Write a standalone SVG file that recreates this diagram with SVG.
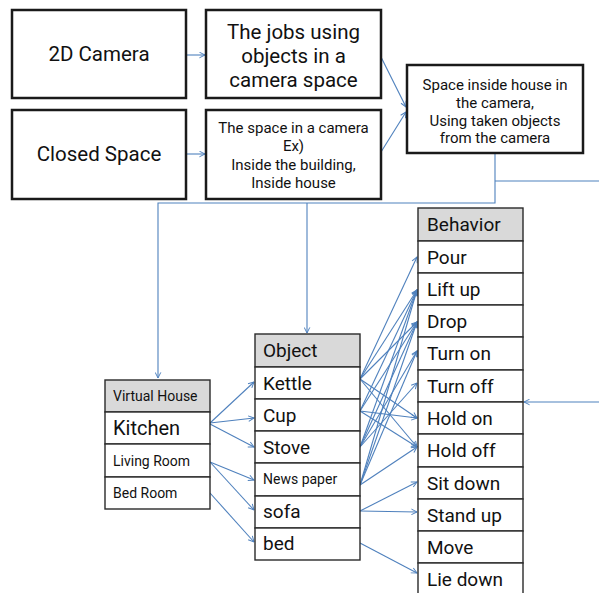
<svg xmlns="http://www.w3.org/2000/svg" width="599" height="593" viewBox="0 0 599 593">
  <style>
    .box { fill: #ffffff; stroke: #1a1a1a; stroke-width: 2.5; }
    .cell { fill: #ffffff; stroke: #2a2a2a; stroke-width: 1.4; }
    .head { fill: #d9d9d9; stroke: #2a2a2a; stroke-width: 1.4; }
    .t { font-family: Roboto, "Noto Sans", sans-serif; fill: #111111; }
    .big { font-size: 20.5px; }
    .mid { font-size: 15px; }
    .cellt { font-size: 19px; }
    .small { font-size: 14px; }
    .link { fill: none; stroke: #4f81bd; stroke-width: 1.1; }
  </style>
  <defs>
    <marker id="arrow" viewBox="0 0 10 10" refX="9" refY="5" markerWidth="7" markerHeight="7" markerUnits="userSpaceOnUse" orient="auto">
      <path d="M1,1 L9,5 L1,9" fill="none" stroke="#4f81bd" stroke-width="1.4"/>
    </marker>
  </defs>
  <rect width="599" height="593" fill="#ffffff"/>

  <!-- connectors -->
  <g id="connectors" class="link" marker-end="url(#arrow)">
    <line x1="186" y1="55" x2="205" y2="55"/>
    <line x1="186" y1="154" x2="205" y2="154"/>
    <line x1="381" y1="57" x2="406" y2="107"/>
    <line x1="381" y1="152" x2="406" y2="112"/>
    <polyline points="495,153 495,203 158,203 158,378"/>
    <line x1="307" y1="203" x2="307" y2="333"/>
    <line x1="495" y1="181" x2="599" y2="181" marker-end="none"/>
    <line x1="599" y1="402" x2="524" y2="402"/>
    <!-- rooms to objects -->
    <line x1="210" y1="423" x2="254" y2="382"/>
    <line x1="210" y1="423" x2="254" y2="418"/>
    <line x1="210" y1="424" x2="254" y2="447"/>
    <line x1="210" y1="462" x2="254" y2="480"/>
    <line x1="210" y1="462" x2="254" y2="510"/>
    <line x1="210" y1="493" x2="254" y2="542"/>
    <!-- objects to behaviors -->
    <line x1="360" y1="379" x2="417" y2="257"/>
    <line x1="360" y1="379" x2="417" y2="290"/>
    <line x1="360" y1="379" x2="417" y2="322"/>
    <line x1="360" y1="379" x2="417" y2="418"/>
    <line x1="360" y1="379" x2="417" y2="447"/>
    <line x1="360" y1="411" x2="417" y2="290"/>
    <line x1="360" y1="411" x2="417" y2="322"/>
    <line x1="360" y1="411" x2="417" y2="418"/>
    <line x1="360" y1="411" x2="417" y2="447"/>
    <line x1="360" y1="447" x2="417" y2="290"/>
    <line x1="360" y1="447" x2="417" y2="322"/>
    <line x1="360" y1="447" x2="417" y2="351"/>
    <line x1="360" y1="447" x2="417" y2="383"/>
    <line x1="360" y1="485" x2="417" y2="290"/>
    <line x1="360" y1="485" x2="417" y2="322"/>
    <line x1="360" y1="485" x2="417" y2="351"/>
    <line x1="360" y1="485" x2="417" y2="447"/>
    <line x1="360" y1="511" x2="417" y2="482"/>
    <line x1="360" y1="511" x2="417" y2="512"/>
    <line x1="360" y1="543" x2="417" y2="573"/>
  </g>

  <!-- top boxes -->
  <g id="camera">
    <rect class="box" x="12" y="10" width="174" height="88"/>
    <text class="t big" x="99" y="61" text-anchor="middle">2D Camera</text>
  </g>
  <g id="jobs">
    <rect class="box" x="206" y="10" width="175" height="88"/>
    <text class="t big" text-anchor="middle"><tspan x="293.5" y="39">The jobs using</tspan><tspan x="293.5" y="63">objects in a</tspan><tspan x="293.5" y="87">camera space</tspan></text>
  </g>
  <g id="closed-space">
    <rect class="box" x="12" y="110" width="174" height="89"/>
    <text class="t big" x="99" y="161" text-anchor="middle">Closed Space</text>
  </g>
  <g id="camera-space">
    <rect class="box" x="206" y="110" width="175" height="89"/>
    <text class="t mid" text-anchor="middle"><tspan x="293.5" y="133">The space in a camera</tspan><tspan x="293.5" y="151">Ex)</tspan><tspan x="293.5" y="170">Inside the building,</tspan><tspan x="293.5" y="188">Inside house</tspan></text>
  </g>
  <g id="house-space">
    <rect class="box" x="407" y="65" width="176" height="88"/>
    <text class="t mid" text-anchor="middle"><tspan x="495" y="90">Space inside house in</tspan><tspan x="495" y="108">the camera,</tspan><tspan x="495" y="125.5">Using taken objects</tspan><tspan x="495" y="143">from the camera</tspan></text>
  </g>

  <!-- virtual house table -->
  <g id="virtual-house">
    <rect class="head" x="105" y="380" width="105" height="32"/>
    <rect class="cell" x="105" y="412" width="105" height="32"/>
    <rect class="cell" x="105" y="444" width="105" height="33"/>
    <rect class="cell" x="105" y="477" width="105" height="32"/>
    <text class="t small" x="113" y="401">Virtual House</text>
    <text class="t" x="113" y="435" font-size="20">Kitchen</text>
    <text class="t small" x="113" y="466">Living Room</text>
    <text class="t small" x="113" y="498">Bed Room</text>
  </g>

  <!-- object table -->
  <g id="object">
    <rect class="head" x="255" y="334" width="105" height="33"/>
    <rect class="cell" x="255" y="367" width="105" height="32"/>
    <rect class="cell" x="255" y="399" width="105" height="32"/>
    <rect class="cell" x="255" y="431" width="105" height="32"/>
    <rect class="cell" x="255" y="463" width="105" height="33"/>
    <rect class="cell" x="255" y="496" width="105" height="32"/>
    <rect class="cell" x="255" y="528" width="105" height="32"/>
    <text class="t cellt" x="263" y="357">Object</text>
    <text class="t cellt" x="263" y="390">Kettle</text>
    <text class="t cellt" x="263" y="422">Cup</text>
    <text class="t cellt" x="263" y="454">Stove</text>
    <text class="t small" x="263" y="484">News paper</text>
    <text class="t cellt" x="263" y="518">sofa</text>
    <text class="t cellt" x="263" y="550">bed</text>
  </g>

  <!-- behavior table -->
  <g id="behavior">
    <rect class="head" x="418" y="208" width="105" height="33"/>
    <rect class="cell" x="418" y="241" width="105" height="32"/>
    <rect class="cell" x="418" y="273" width="105" height="32"/>
    <rect class="cell" x="418" y="305" width="105" height="32"/>
    <rect class="cell" x="418" y="337" width="105" height="33"/>
    <rect class="cell" x="418" y="370" width="105" height="32"/>
    <rect class="cell" x="418" y="402" width="105" height="32"/>
    <rect class="cell" x="418" y="434" width="105" height="33"/>
    <rect class="cell" x="418" y="467" width="105" height="32"/>
    <rect class="cell" x="418" y="499" width="105" height="32"/>
    <rect class="cell" x="418" y="531" width="105" height="32"/>
    <rect class="cell" x="418" y="563" width="105" height="33"/>
    <text class="t cellt" x="427" y="231">Behavior</text>
    <text class="t cellt" x="427" y="264">Pour</text>
    <text class="t cellt" x="427" y="296">Lift up</text>
    <text class="t cellt" x="427" y="328">Drop</text>
    <text class="t cellt" x="427" y="360">Turn on</text>
    <text class="t cellt" x="427" y="393">Turn off</text>
    <text class="t cellt" x="427" y="425">Hold on</text>
    <text class="t cellt" x="427" y="457">Hold off</text>
    <text class="t cellt" x="427" y="490">Sit down</text>
    <text class="t cellt" x="427" y="522">Stand up</text>
    <text class="t cellt" x="427" y="554">Move</text>
    <text class="t cellt" x="427" y="586">Lie down</text>
  </g>
</svg>
